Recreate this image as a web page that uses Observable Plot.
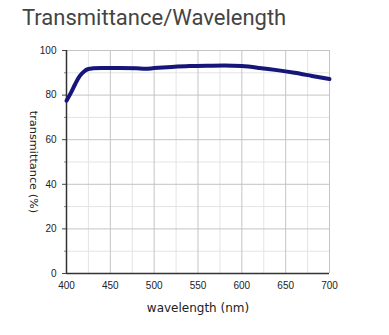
<!DOCTYPE html>
<html>
<head>
<meta charset="utf-8">
<script src="https://cdn.jsdelivr.net/npm/d3@7"></script>
<script src="https://cdn.jsdelivr.net/npm/@observablehq/plot@0.6"></script>
<style>
  html, body { margin: 0; padding: 0; background: #fff; }
  #wrap { position: relative; width: 389px; height: 335px; }
  #title { position: absolute; left: 22px; top: 7px; font-family: Roboto, "Open Sans", sans-serif; font-size: 22px; line-height: 22px; color: #444; white-space: nowrap; }
  #chart { position: absolute; left: 0; top: 0; }
</style>
</head>
<body>
<div id="wrap">
  <div id="chart"></div>
  <div id="title">Transmittance/Wavelength</div>
</div>
<script>
const wavelength = [400, 405, 410, 415, 420, 425, 430, 440, 460, 480, 490, 500, 520, 540, 560, 580, 600, 620, 640, 660, 680, 700];
const transmittance = [77.5, 81, 85, 88.5, 90.6, 91.7, 92, 92.2, 92.2, 92, 91.8, 92.1, 92.6, 93, 93.2, 93.3, 93, 92.2, 91.2, 90, 88.6, 87.2];
const xTicks = [400, 450, 500, 550, 600, 650, 700];
const xMinor = [425, 475, 525, 575, 625, 675];
const yTicks = [0, 20, 40, 60, 80, 100];
const yMinor = [10, 30, 50, 70, 90];
const xLabel = "wavelength (nm)";
const yLabel = "transmittance (%)";

const data = wavelength.map((w, i) => ({w, t: transmittance[i]}));

const chart = Plot.plot({
  width: 389,
  height: 335,
  marginLeft: 66,
  marginRight: 60,
  marginTop: 50,
  marginBottom: 62,
  x: {domain: [400, 700]},
  y: {domain: [0, 100]},
  style: {fontFamily: "'Liberation Sans', Arial, sans-serif", fontSize: "10px", color: "#222", background: "#fff"},
  marks: [
    Plot.gridX(xMinor, {stroke: "#e4e4e4", strokeOpacity: 1}),
    Plot.gridY(yMinor, {stroke: "#e4e4e4", strokeOpacity: 1}),
    Plot.gridX(xTicks, {stroke: "#c4c4c4", strokeOpacity: 1}),
    Plot.gridY(yTicks, {stroke: "#c4c4c4", strokeOpacity: 1}),
    Plot.axisX(xTicks, {tickSize: 0, tickPadding: 8, label: null}),
    Plot.axisY(yTicks, {tickSize: 4, tickPadding: 6, label: null, stroke: "#444"}),
    Plot.axisY(yMinor, {tickSize: 2, text: null, label: null, stroke: "#888"}),
    Plot.ruleX([400], {stroke: "#333", strokeWidth: 1.5}),
    Plot.ruleY([0], {stroke: "#333", strokeWidth: 1.5}),
    Plot.line(data, {x: "w", y: "t", curve: "monotone-x", stroke: "#16167a", strokeWidth: 4, strokeLinecap: "round"}),
    Plot.text([xLabel], {frameAnchor: "bottom", dy: 35, lineAnchor: "middle", textAnchor: "middle", text: d => d, fontSize: 12, fontFamily: "'DejaVu Sans', Verdana, sans-serif", fill: "#222"}),
    Plot.text([yLabel], {frameAnchor: "left", dx: -33, rotate: 90, lineAnchor: "middle", textAnchor: "middle", text: d => d, fontSize: 11.3, fontFamily: "'DejaVu Sans', Verdana, sans-serif", fill: "#222"})
  ]
});
document.getElementById("chart").appendChild(chart);
</script>
</body>
</html>
